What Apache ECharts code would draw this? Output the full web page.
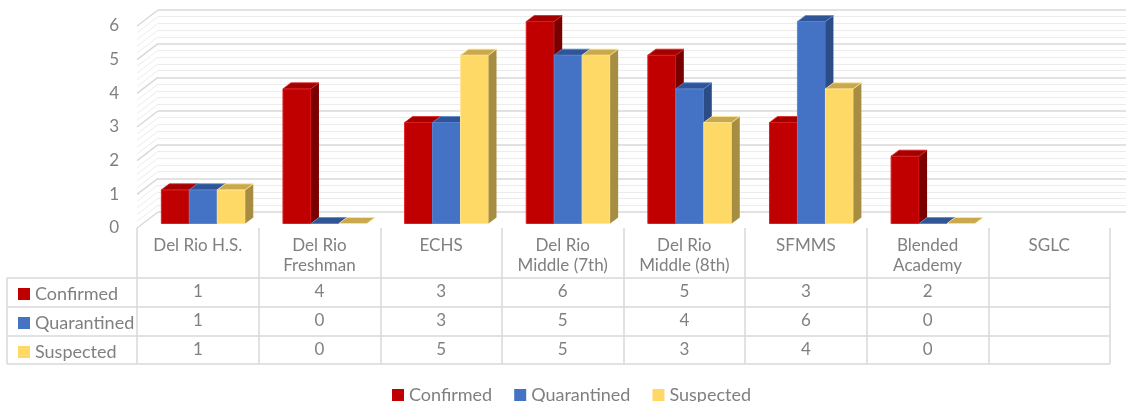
<!DOCTYPE html>
<html>
<head>
<meta charset="utf-8">
<script src="https://cdn.jsdelivr.net/npm/echarts@6/dist/echarts.min.js"></script>
<style>
    html, body { margin: 0; padding: 0; background: #fff; }
    #chart { width: 1126px; height: 402px; }
</style>
</head>
<body>
<div id="chart"></div>
<script>
var schools = ['Del Rio H.S.', 'Del Rio\nFreshman', 'ECHS', 'Del Rio\nMiddle (7th)', 'Del Rio\nMiddle (8th)', 'SFMMS', 'Blended\nAcademy', 'SGLC'];
var confirmed = [1, 4, 3, 6, 5, 3, 2, null];
var quarantined = [1, 0, 3, 5, 4, 6, 0, null];
var suspected = [1, 0, 5, 5, 3, 4, 0, null];
var seriesNames = ['Confirmed', 'Quarantined', 'Suspected'];

var textColor = '#808080';
var lineColor = '#d9d9d9';
var font = 'Lato';

// front / top / side / edge
var palette = [
    {front: '#C00000', top: '#a30000', side: '#7a0000', edge: '#e02020'},
    {front: '#4472C4', top: '#2f5597', side: '#2b4c86', edge: '#5b86d4'},
    {front: '#FFD966', top: '#c9a94c', side: '#a68d42', edge: '#ffe699'}
];

// depth of the walls and of the bars
var wallDx = 21, wallDy = 16;
var barShiftX = 5.5, barShiftY = 4.5;
var sideDx = 8, sideDy = 6;

function toData(arr) {
    var out = [];
    arr.forEach(function (v, i) {
        if (v != null) out.push([i, v]);
    });
    return out;
}

function barRenderer(k) {
    return function (params, api) {
        var ci = api.value(0), v = api.value(1);
        var top = api.coord([ci, v]);
        var base = api.coord([ci, 0]);
        var band = api.size([1, 0])[0];
        var bw = band * 0.23;
        var x = top[0] - 1.5 * bw + k * bw + barShiftX;
        var y0 = top[1] - barShiftY;
        var y1 = base[1] - barShiftY;
        var c = palette[k];
        return {
            type: 'group',
            children: [
                {
                    type: 'rect',
                    shape: {x: x, y: y0, width: bw, height: y1 - y0},
                    style: {fill: c.front, stroke: c.edge, lineWidth: 1}
                },
                {
                    type: 'polygon',
                    shape: {points: [[x + bw, y0], [x + bw + sideDx, y0 - sideDy], [x + bw + sideDx, y1 - sideDy], [x + bw, y1]]},
                    style: {fill: c.side}
                },
                {
                    type: 'polygon',
                    shape: {points: [[x, y0], [x + sideDx, y0 - sideDy], [x + bw + sideDx, y0 - sideDy], [x + bw, y0]]},
                    style: {fill: c.top, stroke: c.edge, lineWidth: 0.8}
                }
            ]
        };
    };
}

// left wall diagonals, one for every major and minor grid line
function wallRenderer(params, api) {
    var cs = params.coordSys;
    var children = [];
    for (var i = 0; i <= 30; i++) {
        var y = api.coord([0, i / 5])[1];
        children.push({
            type: 'line',
            shape: {x1: cs.x, y1: y, x2: cs.x + wallDx, y2: y - wallDy},
            style: {stroke: i % 5 === 0 ? lineColor : '#ececec', lineWidth: i % 5 === 0 ? 1.5 : 1}
        });
    }
    return {type: 'group', children: children};
}

var valueRows = [confirmed, quarantined, suspected];
var rowCenters = [292, 321, 350];

var xAxes = [{
    type: 'category',
    gridIndex: 0,
    data: schools,
    axisLine: {show: false},
    axisTick: {show: true, interval: 0, length: 136, lineStyle: {color: lineColor, width: 1.5}},
    axisLabel: {interval: 0, color: textColor, fontFamily: font, fontSize: 17, lineHeight: 20, margin: 8},
    splitLine: {show: false}
}];
valueRows.forEach(function (row, r) {
    xAxes.push({
        type: 'category',
        gridIndex: 0,
        position: 'bottom',
        offset: rowCenters[r] - 228,
        data: schools,
        axisLine: {show: false},
        axisTick: {show: false},
        axisLabel: {
            interval: 0, color: textColor, fontFamily: font, fontSize: 17,
            margin: 0, verticalAlign: 'middle',
            formatter: function (val, idx) {
                return row[idx] == null ? '' : String(row[idx]);
            }
        }
    });
});
xAxes.push({type: 'value', gridIndex: 1, min: 0, max: 1, show: false});

var tableLines = [278, 307, 336, 364].map(function (y) {
    return {type: 'line', shape: {x1: 7, y1: y, x2: 1110, y2: y}, style: {stroke: lineColor, lineWidth: 1.5}, silent: true};
});
tableLines.push({type: 'line', shape: {x1: 7, y1: 278, x2: 7, y2: 364}, style: {stroke: lineColor, lineWidth: 1.5}, silent: true});

var series = [{
    type: 'custom',
    silent: true,
    xAxisIndex: 0,
    yAxisIndex: 0,
    clip: false,
    z: 1,
    data: [[0, 0]],
    renderItem: wallRenderer
}];
[confirmed, quarantined, suspected].forEach(function (arr, k) {
    series.push({
        name: seriesNames[k],
        type: 'custom',
        xAxisIndex: 0,
        yAxisIndex: 0,
        clip: false,
        z: 3,
        itemStyle: {color: palette[k].front},
        data: toData(arr),
        renderItem: barRenderer(k)
    });
});

var option = {
    animation: false,
    backgroundColor: '#fff',
    textStyle: {fontFamily: font},
    grid: [
        {left: 137, right: 16, top: 26, bottom: 174},
        {left: 137 + wallDx, right: 0, top: 26 - wallDy, bottom: 174 + wallDy}
    ],
    legend: [
        {
            data: seriesNames,
            left: 387, top: 380, itemGap: 22,
            itemWidth: 12, itemHeight: 12, icon: 'rect',
            textStyle: {color: textColor, fontFamily: font, fontSize: 18, lineHeight: 20}
        },
        {
            data: seriesNames,
            orient: 'vertical',
            left: 13, top: 279, itemGap: 9,
            itemWidth: 12, itemHeight: 12, icon: 'rect',
            textStyle: {color: textColor, fontFamily: font, fontSize: 18, lineHeight: 20}
        }
    ],
    xAxis: xAxes,
    yAxis: [
        {
            type: 'value',
            gridIndex: 0,
            min: 0, max: 6, interval: 1,
            axisLine: {show: false},
            axisTick: {show: false},
            splitLine: {show: false},
            axisLabel: {color: textColor, fontFamily: font, fontSize: 17, margin: 18}
        },
        {
            type: 'value',
            gridIndex: 1,
            min: 0, max: 6, interval: 1,
            axisLine: {show: false},
            axisTick: {show: false},
            axisLabel: {show: false},
            splitLine: {show: true, lineStyle: {color: lineColor, width: 1.5}},
            minorTick: {show: false, splitNumber: 5},
            minorSplitLine: {show: true, lineStyle: {color: '#ececec', width: 1}}
        }
    ],
    graphic: tableLines,
    series: series
};

var chart = echarts.init(document.getElementById('chart'));
chart.setOption(option);
</script>
</body>
</html>
